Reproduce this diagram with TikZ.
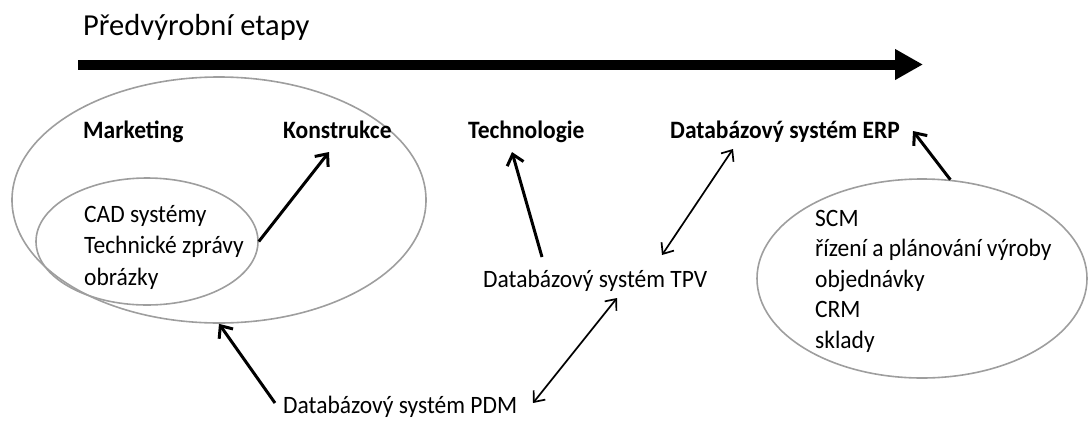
\documentclass[tikz,border=0pt]{standalone}
\usepackage{fontspec}
\setmainfont{Carlito}[FakeStretch=0.94]
\newfontfamily\titlefont{Carlito}
\usetikzlibrary{arrows.meta,shapes.geometric}
\begin{document}
\begin{tikzpicture}[x=1pt,y=-1pt,
  lbl/.style={inner sep=0pt, anchor=base west, font=\fontsize{25}{30}\selectfont},
  blbl/.style={inner sep=0pt, anchor=base west, font=\fontsize{25}{30}\selectfont\bfseries},
  oval/.style={draw=black!38, line width=1.6pt, ellipse, inner sep=0pt},
  thickarrow/.style={line width=3pt, -{Straight Barb[length=10pt,width=17pt]}},
  duoarrow/.style={line width=1.7pt, {Straight Barb[length=9pt,width=15pt]}-{Straight Barb[length=9pt,width=15pt]}}
]
\useasboundingbox (0,0) rectangle (1089,421);

% ellipses
\node[oval, minimum width=414pt, minimum height=246pt] (outer) at (219,200) {};
\node[oval, minimum width=222pt, minimum height=127pt] (inner) at (147,241.5) {};
\node[oval, minimum width=330pt, minimum height=199pt] (erpset) at (922,278.5) {};

% title and main arrow
\node[inner sep=0pt, anchor=base west, font=\titlefont\fontsize{30.5}{36}\selectfont] (title) at (83,35) {Předvýrobní etapy};
\coordinate (mainS) at (78,64.5);
\coordinate (mainE) at (923,64.5);
\draw[line width=10pt, -{Triangle[length=28pt,width=29pt]}] (mainS) -- (mainE);

% bold headings
\node[blbl] (marketing) at (83,138.5) {Marketing};
\node[blbl] (konstrukce) at (283,138.5) {Konstrukce};
\node[blbl] (technologie) at (468,138.5) {Technologie};
\node[blbl] (erp) at (670,138.5) {Databázový systém ERP};

% inner ellipse text
\node[lbl] (cad) at (84,222) {CAD systémy};
\node[lbl] (tz) at (84,253.5) {Technické zprávy};
\node[lbl] (obr) at (84,285) {obrázky};

% right ellipse text
\node[lbl] (scm) at (815,226) {SCM};
\node[lbl] (rpv) at (815,256.5) {řízení a plánování výroby};
\node[lbl] (obj) at (815,287) {objednávky};
\node[lbl] (crm) at (815,317.5) {CRM};
\node[lbl] (skl) at (815,348) {sklady};

% databases
\node[lbl] (tpv) at (483,287) {Databázový systém TPV};
\node[lbl] (pdm) at (283,413.5) {Databázový systém PDM};

% arrow end points
\coordinate (konTip) at (329,152);
\coordinate (techTip) at (512,152);
\coordinate (tpvTop) at (542,257);
\coordinate (erpLow) at (733,149);
\coordinate (tpvRight) at (662,255);
\coordinate (erpTip) at (913,131);
\coordinate (pdmTail) at (275,403);
\coordinate (pdmRight) at (533,403);
\coordinate (tpvLow) at (617,298);

% connectors
\draw[thickarrow] (inner.east) -- (konTip);
\draw[thickarrow] (tpvTop) -- (techTip);
\draw[duoarrow] (tpvRight) -- (erpLow);
\draw[thickarrow] (erpset.74) -- (erpTip);
\draw[thickarrow] (pdmTail) -- (outer.south);
\draw[duoarrow] (pdmRight) -- (tpvLow);
\end{tikzpicture}
\end{document}
